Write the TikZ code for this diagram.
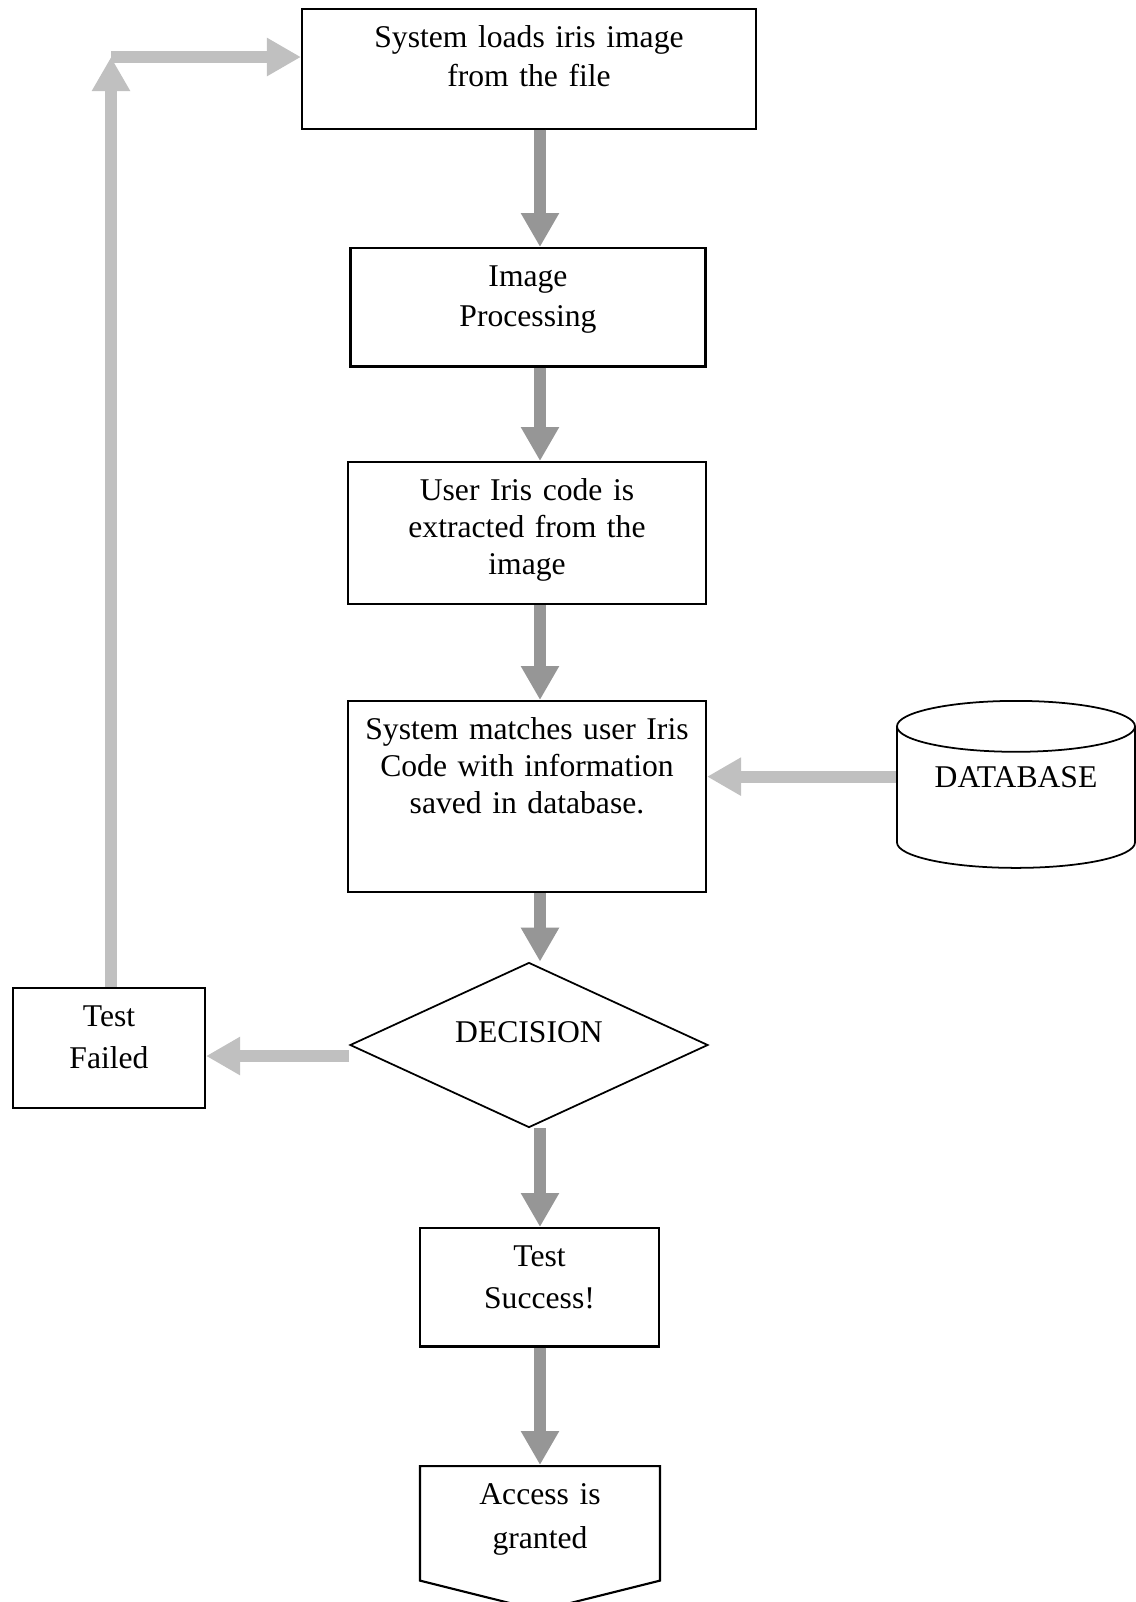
\documentclass[tikz,border=0pt]{standalone}
\usepackage{fontspec}
\setmainfont{Liberation Serif}
\usetikzlibrary{shapes.geometric, shapes.symbols, arrows.meta}

\definecolor{flowgray}{RGB}{150,150,150}
\definecolor{backgray}{RGB}{192,192,192}

\begin{document}
\begin{tikzpicture}[
    x=0.1mm, y=-0.1mm,
    box/.style={draw, line width=0.6pt, fill=white, anchor=north,
        font=\fontsize{9}{10.5}\selectfont, align=center,
        text width=33mm, text height=7.8pt, inner xsep=2pt, inner ysep=3.2pt},
    wide/.style={font=\fontsize{9}{#1}\selectfont},
    decide/.style={diamond, aspect=2.17, draw, line width=0.5pt, fill=white,
        font=\fontsize{9}{10.5}\selectfont, inner sep=0pt,
        text height=6.5pt, text depth=8pt},
    drum/.style={cylinder, shape border rotate=90, aspect=0.3, draw,
        line width=0.5pt, fill=white, font=\fontsize{9}{10.5}\selectfont,
        inner sep=1pt, text height=6.5pt, text depth=13.8pt},
    flow/.style={draw=flowgray, line width=1.2mm,
        -{Triangle[length=3.4mm, width=3.6mm]}},
    back/.style={draw=backgray, line width=1.2mm,
        -{Triangle[length=3.4mm, width=3.6mm]}}
]

    % page, in pixels of the reference
    \fill[white] (0,0) rectangle (1135,1602);
    \useasboundingbox (0,0) rectangle (1135,1602);

    \coordinate (axis) at (540,0);
    \coordinate (bend) at (111,57);

    % main column
    \node[box, wide=11.1pt, minimum width=45.4mm, text depth=19.8pt] (load) at (529,8)
        {System loads iris image\\from the file};
    \node[box, wide=11.3pt, minimum width=35.5mm, text depth=19.5pt] (proc) at (528,247)
        {Image\\Processing};
    \node[box, minimum width=35.8mm, text depth=26.3pt] (extr) at (527,461)
        {User Iris code is\\extracted from the\\image};
    \node[box, minimum width=35.8mm, text depth=40.2pt] (match) at (527,700)
        {System matches user Iris\\Code with information\\saved in database.};
    \node[decide, minimum width=35.8mm, minimum height=16.5mm] (dec) at (529,1045) {DECISION};
    \node[box, wide=11.9pt, minimum width=23.9mm, text width=20mm, text depth=19.5pt] (succ) at (539.5,1227)
        {Test\\Success!};
    \node[box, signal, signal to=south, signal from=nowhere, signal pointer angle=152,
        wide=12.5pt, minimum width=24mm, text width=20mm, text depth=18.4pt] (acc) at (540,1465)
        {Access is\\granted};

    % side nodes
    \node[drum, anchor=north, minimum width=23.8mm, minimum height=16.7mm] (db) at (1016,700) {DATABASE};
    \node[box, wide=11.9pt, minimum width=19.2mm, text width=15mm, text depth=19.8pt] (fail) at (109,987)
        {Test\\Failed};

    % transitions
    \foreach \a/\b in {load/proc, proc/extr, extr/match, match/dec, dec/succ, succ/acc}
        \draw[flow] (\a.south -| axis) -- (\b.north -| axis);

    \draw[back] ([yshift=2.4mm]db.west) -- ([yshift=2.4mm]db.west -| match.east);
    \draw[back] ([yshift=-1.1mm]dec.west) -- ([yshift=-1.1mm]dec.west -| fail.east);

    % back to the start
    \draw[back] (fail.north -| bend) -- (bend);
    \draw[back] (bend) -- (bend -| load.west);

\end{tikzpicture}
\end{document}
